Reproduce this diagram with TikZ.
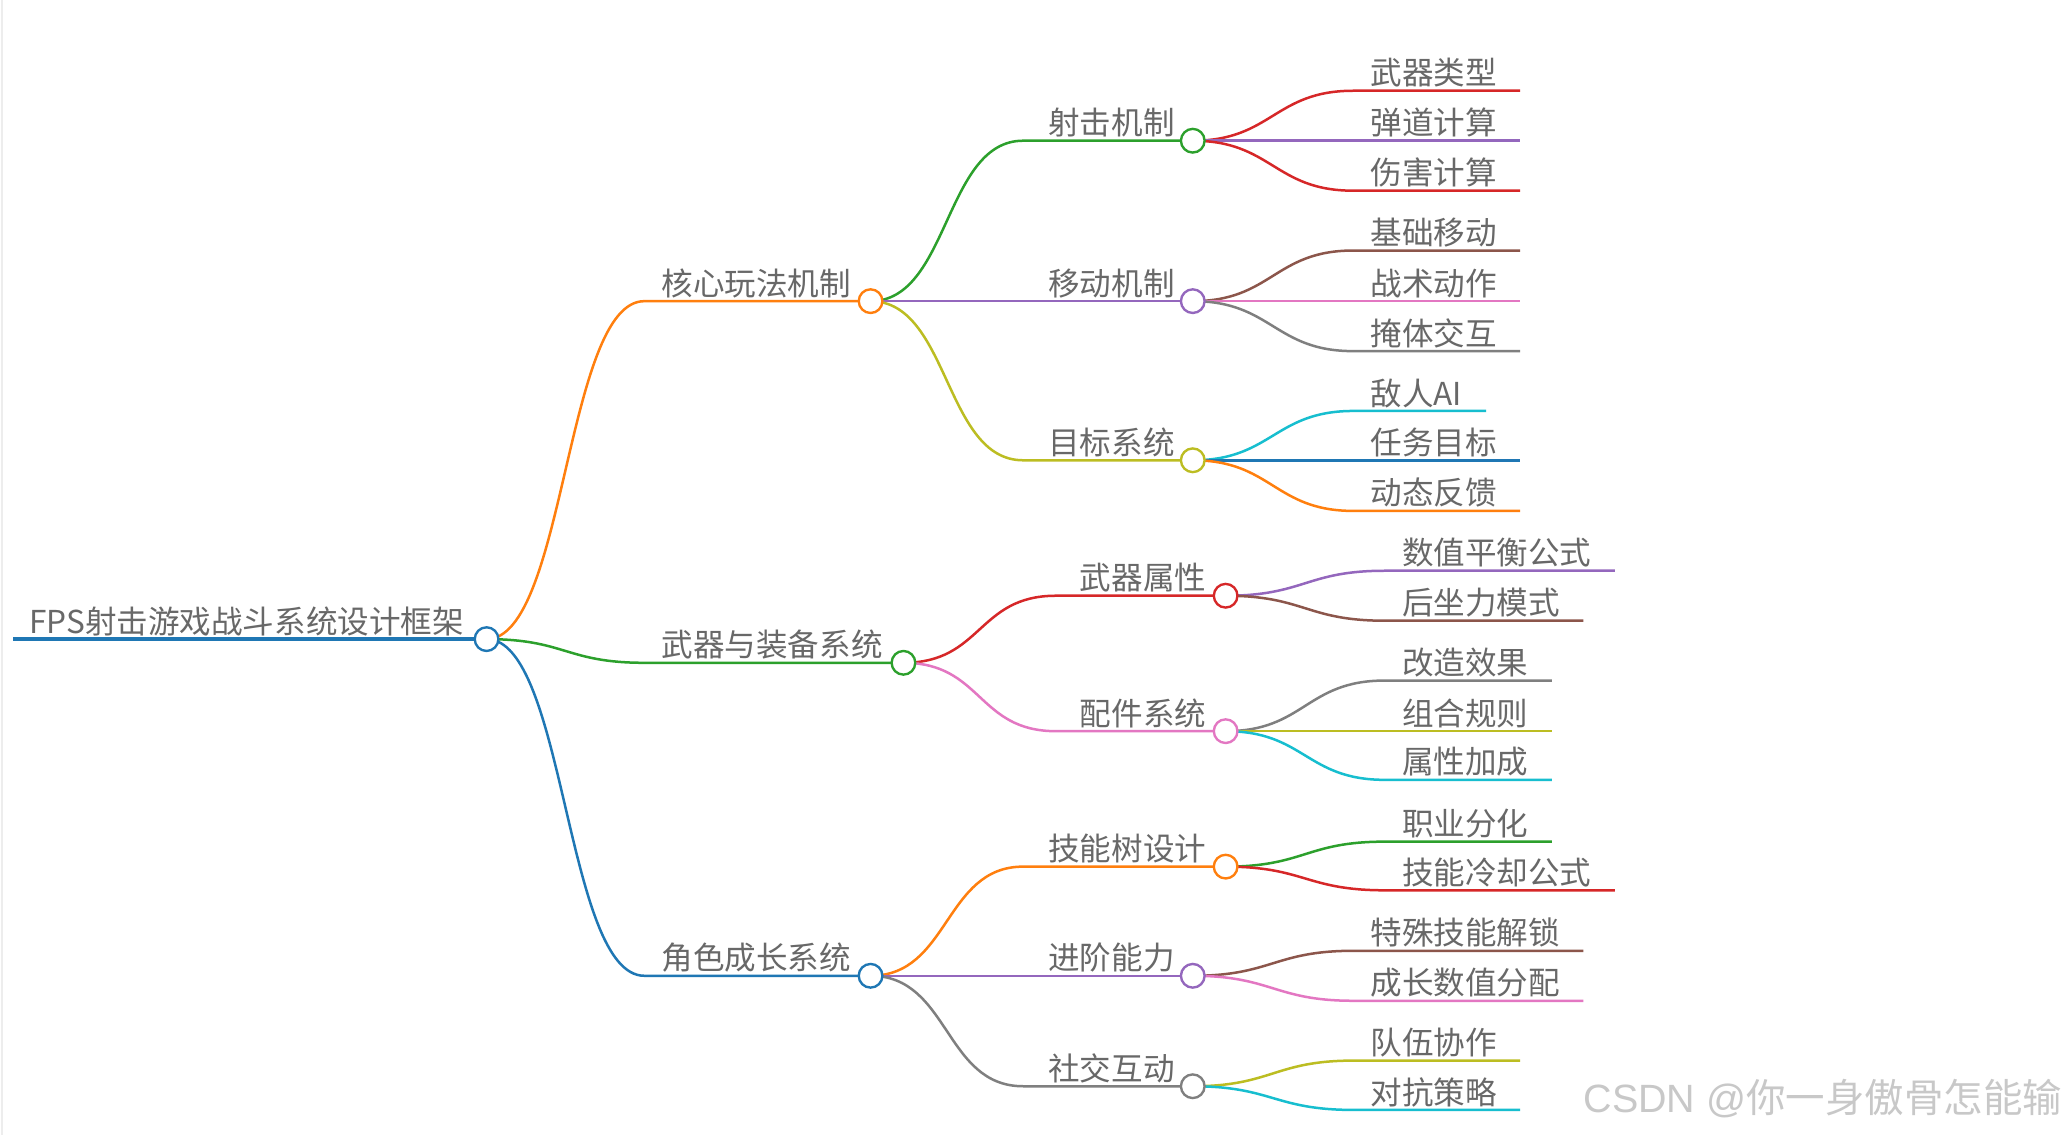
\documentclass[tikz,border=0pt]{standalone}
\usepackage{fontspec}
\setmainfont{Noto Sans CJK SC}
\newfontfamily\wmlatin{Liberation Sans}
\usetikzlibrary{calc}
\definecolor{cBlue}{HTML}{1F77B4}
\definecolor{cOrange}{HTML}{FF7F0E}
\definecolor{cGreen}{HTML}{2CA02C}
\definecolor{cRed}{HTML}{D62728}
\definecolor{cPurple}{HTML}{9467BD}
\definecolor{cBrown}{HTML}{8C564B}
\definecolor{cPink}{HTML}{E377C2}
\definecolor{cGray}{HTML}{7F7F7F}
\definecolor{cOlive}{HTML}{BCBD22}
\definecolor{cCyan}{HTML}{17BECF}
\definecolor{txt}{RGB}{104,104,104}
\definecolor{wmgray}{RGB}{200,200,200}
\pgfdeclarelayer{bg}
\pgfdeclarelayer{paper}
\pgfsetlayers{paper,bg,main}
% branch: parent, name, color, y, startx, circlex, textx, text
\newcommand\mmbranch[8]{%
  \node[dot,draw=#3] (#2) at (#6,#4) {};
  \coordinate (#2s) at (#5,#4);
  \node[lbl] (#2t) at (#7,#4-4.5) {#8};
  \begin{pgfonlayer}{bg}
    \draw[edge,draw=#3] (#1.center) .. controls +(60,0) and +(-60,0) .. (#2s) -- (#2.center);
  \end{pgfonlayer}}
% leaf: parent, name, color, y, startx, endx, text
\newcommand\mmleaf[7]{%
  \coordinate (#2s) at (#5,#4);
  \coordinate (#2e) at (#6,#4);
  \node[lbl] (#2t) at (#5+13,#4-4.5) {#7};
  \begin{pgfonlayer}{bg}
    \draw[edge,draw=#3] (#1.center) .. controls +(60,0) and +(-60,0) .. (#2s) -- (#2e);
  \end{pgfonlayer}}
\begin{document}
\begin{tikzpicture}[x=1pt,y=-1pt,
  dot/.style={circle,fill=white,line width=1.8pt,minimum size=18pt,inner sep=0pt},
  lbl/.style={anchor=base west,inner sep=0pt,text=txt,font=\fontsize{24}{24}\selectfont},
  edge/.style={line width=1.9pt}]
\useasboundingbox (0,0) rectangle (1568,863);
\begin{pgfonlayer}{paper}
  \fill[white] (0,0) rectangle (1568,863);
  \draw[black!7,line width=1pt] (1.5,0) -- (1.5,863);
\end{pgfonlayer}

% root
\node[dot,draw=cBlue] (r) at (370,486) {};
\coordinate (r0) at (10,486);
\node[lbl] (rt) at (22,481.5) {FPS射击游戏战斗系统设计框架};
\begin{pgfonlayer}{bg}
  \draw[line width=2.8pt,cBlue] (r0) -- (r.center);
\end{pgfonlayer}

% level 1
\mmbranch{r}{a}{cOrange}{229}{490}{662}{503}{核心玩法机制}
\mmbranch{r}{b}{cGreen}{504}{490}{687}{503}{武器与装备系统}
\mmbranch{r}{c}{cBlue}{742}{490}{662}{503}{角色成长系统}

% level 2
\mmbranch{a}{a1}{cGreen}{107}{778}{907}{797}{射击机制}
\mmbranch{a}{a2}{cPurple}{229}{778}{907}{797}{移动机制}
\mmbranch{a}{a3}{cOlive}{350}{778}{907}{797}{目标系统}
\mmbranch{b}{b1}{cRed}{453}{803}{932}{821}{武器属性}
\mmbranch{b}{b2}{cPink}{556}{803}{932}{821}{配件系统}
\mmbranch{c}{c1}{cOrange}{659}{778}{932}{797}{技能树设计}
\mmbranch{c}{c2}{cPurple}{742}{778}{907}{797}{进阶能力}
\mmbranch{c}{c3}{cGray}{826}{778}{907}{797}{社交互动}

% leaves
\mmleaf{a1}{l1}{cRed}{69}{1029}{1156}{武器类型}
\mmleaf{a1}{l2}{cPurple}{107}{1029}{1156}{弹道计算}
\mmleaf{a1}{l3}{cRed}{145}{1029}{1156}{伤害计算}
\mmleaf{a2}{l4}{cBrown}{190.5}{1029}{1156}{基础移动}
\mmleaf{a2}{l5}{cPink}{229}{1029}{1156}{战术动作}
\mmleaf{a2}{l6}{cGray}{267}{1029}{1156}{掩体交互}
\mmleaf{a3}{l7}{cCyan}{312.5}{1029}{1130}{敌人AI}
\mmleaf{a3}{l8}{cBlue}{350}{1029}{1156}{任务目标}
\mmleaf{a3}{l9}{cOrange}{388.5}{1029}{1156}{动态反馈}
\mmleaf{b1}{l10}{cPurple}{434}{1053}{1228}{数值平衡公式}
\mmleaf{b1}{l11}{cBrown}{472}{1053}{1204}{后坐力模式}
\mmleaf{b2}{l12}{cGray}{517.5}{1053}{1180}{改造效果}
\mmleaf{b2}{l13}{cOlive}{556}{1053}{1180}{组合规则}
\mmleaf{b2}{l14}{cCyan}{593}{1053}{1180}{属性加成}
\mmleaf{c1}{l15}{cGreen}{640}{1053}{1180}{职业分化}
\mmleaf{c1}{l16}{cRed}{677}{1053}{1228}{技能冷却公式}
\mmleaf{c2}{l17}{cBrown}{723}{1029}{1204}{特殊技能解锁}
\mmleaf{c2}{l18}{cPink}{761}{1029}{1204}{成长数值分配}
\mmleaf{c3}{l19}{cOlive}{806.5}{1029}{1156}{队伍协作}
\mmleaf{c3}{l20}{cCyan}{844}{1029}{1156}{对抗策略}

% watermark
\node[anchor=base west,inner sep=0pt,text=wmgray,font=\fontsize{30}{30}\selectfont] (wm) at (1204,846) {{\wmlatin CSDN @}你一身傲骨怎能输};
\end{tikzpicture}
\end{document}
